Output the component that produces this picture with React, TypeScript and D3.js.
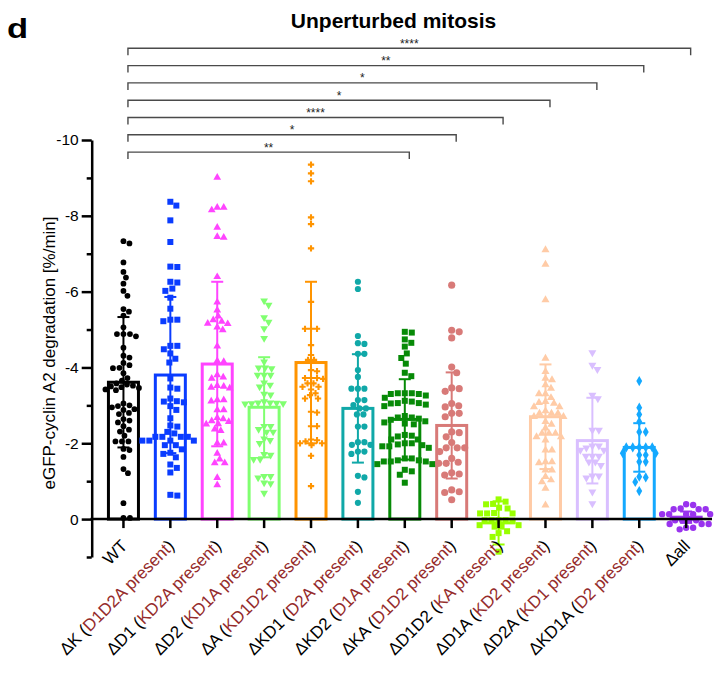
import React, { useEffect, useRef } from "react";
import * as d3 from "d3";

// categories + the "(... present)" part of each x label
const categories = ["WT", "ΔK", "ΔD1", "ΔD2", "ΔA", "ΔKD1", "ΔKD2", "ΔKA", "ΔD1D2", "ΔD1A", "ΔD2A", "ΔKD1A", "Δall"];
const presentParts = ["", "D1D2A present", "KD2A present", "KD1A present", "KD1D2 present", "D2A present", "D1A present", "D1D2 present", "KA present", "KD2 present", "KD1 present", "D2 present", ""];

// bar heights (mean) and error bars (SD)
const means = [-3.61, -3.8, -4.09, -2.95, -4.13, -2.92, -2.63, -2.47, 0.1, -2.7, -2.07, -1.89, -0.05];
const sds = [1.72, 2.06, 2.17, 1.32, 2.13, 1.43, 1.06, 1.4, 0.57, 1.38, 1.13, 0.64, 0.15];

// individual cells, eGFP-cyclin A2 degradation [%/min]
const wt = [-7.33, -7.27, -6.77, -6.52, -6.37, -6.21, -6.02, -5.89, -5.54, -5.47, -5.37, -5.06, -4.88, -4.88, -4.82, -4.88, -4.52, -4.31, -4.26, -4.12, -4.06, -3.99, -3.98, -3.85, -3.72, -3.65, -3.58, -3.55, -3.52, -3.5, -3.48, -3.46, -3.42, -3.4, -3.05, -3.0, -2.98, -2.95, -2.9, -2.88, -2.8, -2.77, -2.64, -2.6, -2.55, -2.45, -2.36, -2.31, -2.2, -2.05, -2.05, -2.05, -1.85, -1.82, -1.64, -1.32, -1.21, -0.42, -0.03, -0.03];
const dK = [-8.37, -8.27, -7.88, -7.31, -6.65, -6.66, -6.24, -6.26, -6.08, -6.02, -5.84, -5.55, -5.26, -5.22, -5.26, -4.57, -4.57, -4.37, -4.48, -4.23, -4.13, -3.71, -3.47, -3.44, -3.18, -3.08, -3.1, -3.11, -2.98, -2.88, -2.66, -2.47, -2.44, -2.26, -2.3, -2.17, -2.17, -2.17, -2.17, -2.07, -2.07, -2.07, -2.07, -1.95, -1.95, -1.84, -1.75, -1.63, -1.72, -1.35, -1.44, -1.23, -0.62, -0.64];
const dD1 = [-9.01, -8.22, -8.15, -8.22, -7.69, -7.45, -7.43, -6.39, -5.72, -5.51, -5.35, -5.15, -5.21, -5.16, -5.25, -4.99, -5.06, -4.56, -4.17, -4.15, -3.8, -3.74, -3.71, -3.52, -3.47, -3.45, -3.5, -3.14, -3.11, -3.14, -2.88, -2.88, -2.64, -2.59, -2.67, -2.57, -2.5, -2.51, -2.37, -2.33, -2.0, -2.0, -1.73, -1.48, -1.58, -1.48, -1.09, -0.9];
const dD2 = [-5.76, -5.65, -5.32, -5.2, -5.03, -4.77, -4.15, -3.99, -3.99, -3.97, -3.8, -3.8, -3.8, -3.54, -3.6, -3.49, -3.3, -3.28, -3.07, -3.07, -3.05, -3.05, -3.04, -3.06, -3.1, -2.45, -2.45, -2.37, -2.3, -2.3, -2.08, -2.12, -2.0, -1.69, -1.58, -1.58, -1.71, -1.13, -1.13, -1.09, -0.96, -0.94, -0.69];
const dA = [-9.35, -9.12, -8.91, -7.96, -7.78, -7.14, -5.73, -5.02, -5.02, -5.02, -4.59, -4.33, -4.2, -4.2, -3.9, -3.93, -3.72, -3.72, -3.72, -3.7, -3.58, -3.58, -3.42, -3.49, -3.49, -3.27, -3.32, -3.18, -3.18, -2.81, -2.83, -2.45, -2.45, -2.1, -2.08, -2.05, -2.0, -2.0, -1.95, -1.67, -0.87];
const dKD1 = [-6.26, -6.07, -4.83, -4.62, -4.64, -4.36, -4.36, -3.93, -3.75, -3.44, -3.44, -3.44, -3.14, -3.14, -3.01, -2.92, -2.92, -2.76, -2.76, -2.44, -2.44, -2.03, -1.96, -1.96, -2.03, -1.78, -1.72, -1.78, -1.1, -1.14, -0.72, -0.43];
const dKD2 = [-4.92, -4.94, -4.74, -4.65, -4.55, -4.37, -4.25, -4.1, -3.77, -3.86, -3.3, -3.32, -3.3, -3.32, -3.32, -3.26, -3.12, -3.2, -3.06, -3.06, -3.1, -3.02, -2.98, -3.05, -2.72, -2.68, -2.68, -2.58, -2.62, -2.55, -2.65, -2.52, -2.5, -2.2, -2.18, -2.22, -2.1, -2.1, -1.95, -1.92, -2.0, -2.0, -1.92, -1.97, -1.88, -1.6, -1.52, -1.55, -1.6, -1.52, -1.55, -1.52, -1.45, -1.45, -1.3, -1.17, -1.26, -0.96];
const dKA = [-6.17, -4.94, -4.78, -4.98, -4.01, -3.86, -3.44, -3.37, -3.46, -3.05, -2.96, -2.99, -2.79, -2.7, -2.79, -2.3, -2.17, -2.28, -1.88, -1.78, -1.88, -2.02, -1.88, -1.6, -1.47, -1.47, -1.5, -1.22, -1.16, -1.19, -0.77, -0.7, -0.72, -0.51];
const dD1D2 = [-0.52, -0.46, -0.4, -0.39, -0.3, -0.28, -0.16, -0.15, -0.15, -0.15, 0.03, 0.03, 0.03, 0.03, 0.05, 0.16, 0.16, 0.2, 0.2, 0.32, 0.37, 0.47, 0.86];
const dD1A = [-7.1, -6.72, -5.78, -4.24, -3.89, -3.71, -3.67, -3.54, -3.45, -3.3, -3.3, -3.2, -3.1, -3.05, -3.07, -2.96, -2.96, -2.85, -2.79, -2.79, -2.79, -2.7, -2.7, -2.57, -2.5, -2.4, -2.26, -2.26, -2.26, -2.17, -2.17, -2.08, -1.82, -1.82, -1.51, -1.51, -1.48, -1.29, -1.29, -1.03, -1.12, -0.98, -0.81, -0.37];
const dD2A = [-4.39, -3.95, -4.06, -3.18, -3.27, -2.35, -2.35, -1.82, -1.93, -1.93, -1.82, -1.88, -1.66, -1.66, -1.66, -1.51, -1.42, -1.51, -1.14, -1.09, -1.14, -0.72, -0.41];
const dKD1A = [-3.64, -2.94, -2.76, -2.57, -2.3, -2.3, -1.89, -1.89, -1.89, -1.89, -1.89, -1.74, -1.74, -1.69, -1.69, -1.51, -1.51, -1.1, -1.12, -0.98, -0.74];
const dAll = [-0.39, -0.37, -0.26, -0.26, -0.26, -0.28, -0.13, -0.13, -0.13, -0.13, -0.13, 0.03, 0.03, 0.03, 0.03, 0.13, 0.13, 0.13, 0.23, 0.23, 0.27];
const groupValues = [wt, dK, dD1, dD2, dA, dKD1, dKD2, dKA, dD1D2, dD1A, dD2A, dKD1A, dAll];

// comparisons against WT, top to bottom
const compareTo = ["Δall", "ΔKD1A", "ΔD2A", "ΔD1A", "ΔD1D2", "ΔKA", "ΔKD2"];
const stars = ["****", "**", "*", "*", "****", "*", "**"];

const yTicks = [0, -2, -4, -6, -8, -10];
const yMinorTicks = [1, -1, -3, -5, -7, -9];

// styles
const colors = ["#000000", "#0a3cff", "#ff44ff", "#80ff70", "#ff9400", "#10a8a8", "#078a07", "#d87a78", "#99ff00", "#ffcba6", "#d9bfff", "#14a9ff", "#9933ee"];
const shapes = ["circle", "square", "tri", "triDown", "cross", "circle", "square", "circle", "square", "tri", "triDown", "diamond", "circle"];
const sizes = [26, 36, 26, 26, 22, 30, 36, 40, 36, 28, 28, 30, 32];
const redText = "#952b2b";

// simple beeswarm so points with close values spread sideways
function swarm(values: number[], y: (v: number) => number, d: number) {
  const order = values.map((_, i) => i).sort((a, b) => values[a] - values[b]);
  const placed: { x: number; y: number }[] = [];
  const xs = new Array(values.length).fill(0);
  for (const i of order) {
    const py = y(values[i]);
    let off = 0;
    for (let k = 0; k < 400; k++) {
      const c = k === 0 ? 0 : (k % 2 ? 1 : -1) * Math.ceil(k / 2) * 0.5;
      if (placed.every((p) => (p.x - c) ** 2 + (p.y - py) ** 2 >= d * d)) {
        off = c;
        break;
      }
    }
    placed.push({ x: off, y: py });
    xs[i] = off;
  }
  return xs;
}

const symbolType = (s: string) =>
  s === "circle" ? d3.symbolCircle
  : s === "square" ? d3.symbolSquare
  : s === "cross" ? d3.symbolCross
  : s === "diamond" ? d3.symbolDiamond
  : d3.symbolTriangle;

const App = () => {
  const svgRef = useRef<SVGSVGElement>(null);

  useEffect(() => {
    const svg = d3.select(svgRef.current);
    svg.selectAll("*").remove();

    const font = "'Liberation Sans', Arial, sans-serif";
    const w = 716;
    const h = 677;
    svg.attr("width", w).attr("height", h).style("font-family", font);

    const x = d3
      .scaleBand()
      .domain(categories)
      .range([100, 709.6])
      .paddingInner(0.36)
      .paddingOuter(0.18);
    const y = d3.scaleLinear().domain([-10, 1]).range([140, 557]);
    const cx = (c: string) => (x(c) as number) + x.bandwidth() / 2;

    // panel letter + title
    svg
      .append("text")
      .attr("transform", "translate(7,37.5) scale(1.28,1)")
      .attr("font-size", 27)
      .attr("font-weight", "bold")
      .text("d");
    svg
      .append("text")
      .attr("x", 393.5)
      .attr("y", 28)
      .attr("text-anchor", "middle")
      .attr("font-size", 21)
      .attr("font-weight", "bold")
      .text("Unperturbed mitosis");

    // bars
    categories.forEach((c, i) => {
      const m = means[i];
      svg
        .append("rect")
        .attr("x", x(c) as number)
        .attr("width", x.bandwidth())
        .attr("y", Math.min(y(m), y(0)))
        .attr("height", Math.abs(y(m) - y(0)))
        .attr("fill", "none")
        .attr("stroke", colors[i])
        .attr("stroke-width", 3);
    });

    // points
    categories.forEach((c, i) => {
      const vals = groupValues[i];
      const d = Math.sqrt(sizes[i]) + 1;
      const offs = swarm(vals, y, d);
      const sym = d3.symbol().type(symbolType(shapes[i])).size(sizes[i]);
      svg
        .append("g")
        .selectAll("path")
        .data(vals)
        .join("path")
        .attr("d", sym)
        .attr("fill", colors[i])
        .attr(
          "transform",
          (v, j) => `translate(${cx(c) + offs[j]},${y(v)})${shapes[i] === "triDown" ? " rotate(180)" : ""}`
        );
    });

    // error bars (mean ± SD)
    categories.forEach((c, i) => {
      const g = svg.append("g").attr("stroke", colors[i]).attr("stroke-width", 2);
      const lo = y(means[i] - sds[i]);
      const hi = y(means[i] + sds[i]);
      g.append("line").attr("x1", cx(c)).attr("x2", cx(c)).attr("y1", lo).attr("y2", hi);
      [lo, hi].forEach((yy) =>
        g.append("line").attr("x1", cx(c) - 6).attr("x2", cx(c) + 6).attr("y1", yy).attr("y2", yy)
      );
    });

    // y axis
    const yAxis = d3
      .axisLeft(y)
      .tickValues(yTicks)
      .tickSize(10)
      .tickSizeOuter(0)
      .tickFormat((d) => String(d));
    const ya = svg.append("g").attr("transform", "translate(91.7,0)").call(yAxis);
    ya.attr("font-family", font).attr("font-size", 15.5);
    ya.selectAll("path, line").attr("stroke", "#000").attr("stroke-width", 2.5);
    ya.selectAll("text").attr("fill", "#000");
    const yMinor = d3.axisLeft(y).tickValues(yMinorTicks).tickSize(5).tickSizeOuter(0).tickFormat(() => "");
    const ym = svg.append("g").attr("transform", "translate(91.7,0)").call(yMinor);
    ym.select(".domain").remove();
    ym.selectAll("line").attr("stroke", "#000").attr("stroke-width", 2.5);

    svg
      .append("text")
      .attr("transform", "translate(55,353) rotate(-90)")
      .attr("text-anchor", "middle")
      .attr("font-size", 17)
      .text("eGFP-cyclin A2 degradation [%/min]");

    // x axis
    svg
      .append("line")
      .attr("x1", 90.5)
      .attr("x2", 712)
      .attr("y1", y(0))
      .attr("y2", y(0))
      .attr("stroke", "#000")
      .attr("stroke-width", 2.5);
    const xa = svg
      .append("g")
      .attr("transform", `translate(0,${y(0)})`)
      .call(d3.axisBottom(x).tickSize(9).tickSizeOuter(0).tickFormat(() => ""));
    xa.select(".domain").remove();
    xa.selectAll("line").attr("stroke", "#000").attr("stroke-width", 2.5);

    categories.forEach((c, i) => {
      const t = svg
        .append("text")
        .attr("transform", `translate(${cx(c) + 5},547) rotate(-45)`)
        .attr("text-anchor", "end")
        .attr("font-size", 17)
        .attr("fill", "#000");
      if (presentParts[i]) {
        t.append("tspan").text(c + " (");
        t.append("tspan").attr("fill", redText).text(presentParts[i]);
        t.append("tspan").text(")");
      } else {
        t.text(c);
      }
    });

    // significance brackets
    const x0 = cx("WT") + 4.5;
    compareTo.forEach((c, i) => {
      const by = 48.3 + i * 17.3;
      const x1 = cx(c) + 4.5;
      svg
        .append("path")
        .attr("d", `M${x0},${by + 7}V${by}H${x1}V${by + 7}`)
        .attr("fill", "none")
        .attr("stroke", "#4a4a4a")
        .attr("stroke-width", 1.4);
      svg
        .append("text")
        .attr("x", (x0 + x1) / 2)
        .attr("y", by - 0.5)
        .attr("text-anchor", "middle")
        .attr("font-size", 12)
        .attr("fill", "#222")
        .text(stars[i]);
    });
  }, []);

  return <svg ref={svgRef} style={{ position: "absolute", left: 0, top: 0, display: "block" }}></svg>;
};

export default App;
